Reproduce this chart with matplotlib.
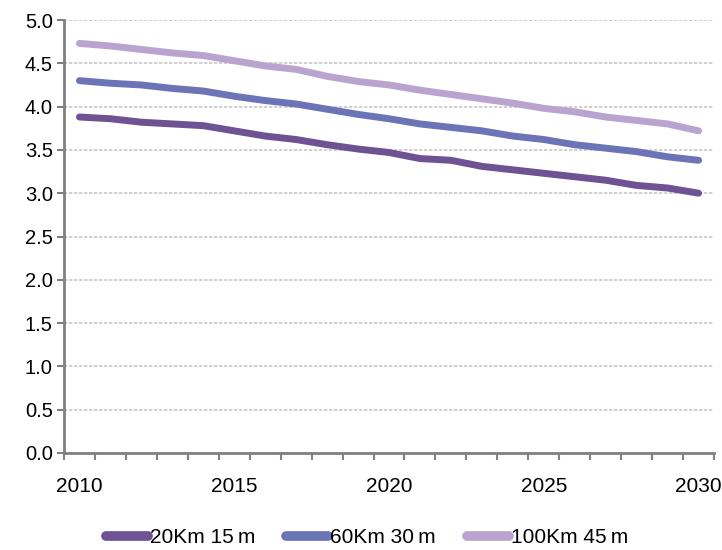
import matplotlib.pyplot as plt
import numpy as np

years = list(range(2010, 2031))
s20 = [3.88, 3.86, 3.82, 3.80, 3.78, 3.72, 3.66, 3.62, 3.56, 3.51, 3.47,
       3.40, 3.38, 3.31, 3.27, 3.23, 3.19, 3.15, 3.09, 3.06, 3.00]
s60 = [4.30, 4.27, 4.25, 4.21, 4.18, 4.12, 4.07, 4.03, 3.97, 3.91, 3.86,
       3.80, 3.76, 3.72, 3.66, 3.62, 3.56, 3.52, 3.48, 3.42, 3.38]
s100 = [4.73, 4.70, 4.66, 4.62, 4.59, 4.53, 4.47, 4.43, 4.35, 4.29, 4.25,
        4.19, 4.14, 4.09, 4.04, 3.98, 3.94, 3.88, 3.84, 3.80, 3.72]
labels = ["20Km 15\u2009m", "60Km 30\u2009m", "100Km 45\u2009m"]
colors = ["#6E5294", "#6B74B7", "#B9A4D0"]

plt.rcParams['font.family'] = ['Liberation Sans', 'DejaVu Sans']

fig = plt.figure(figsize=(7.22, 5.5), dpi=100)
ax = fig.add_axes([0.0886, 0.1764, 0.9004, 0.7872])

for ys, lab, c in zip([s20, s60, s100], labels, colors):
    ax.plot(years, ys, color=c, lw=5, label=lab, solid_capstyle='round')

ax.set_ylim(0, 5)
ax.set_xlim(2009.5, 2030.5)
ax.set_yticks(np.arange(0, 5.01, 0.5))
ax.set_yticklabels([f"{v:.1f}" for v in np.arange(0, 5.01, 0.5)])
ax.set_xticks([2010, 2015, 2020, 2025, 2030])
ax.set_xticks(np.arange(2009.5, 2031, 1), minor=True)
ax.tick_params(axis='x', which='major', length=0, pad=17, labelsize=15)
ax.tick_params(axis='x', which='minor', length=5, width=1.5, color='#808080', direction='out')
ax.tick_params(axis='y', length=5, width=1.5, color='#808080', labelsize=14.5, pad=3)

ax.grid(axis='y', color='#C8C8C8', linestyle=(0, (2, 1)), lw=1.2)
ax.set_axisbelow(True)
for side in ['top', 'right']:
    ax.spines[side].set_visible(False)
for side in ['left', 'bottom']:
    ax.spines[side].set_color('#808080')
    ax.spines[side].set_linewidth(2)

leg = ax.legend(loc='center', bbox_to_anchor=(0.466, -0.196), ncol=3, frameon=False,
                fontsize=15, handlelength=2.0, handletextpad=0.1, columnspacing=1.5,
                borderpad=0)
for h in leg.get_lines():
    h.set_linewidth(7)
    h.set_solid_capstyle('round')

fig.savefig('out.png', dpi=100)
